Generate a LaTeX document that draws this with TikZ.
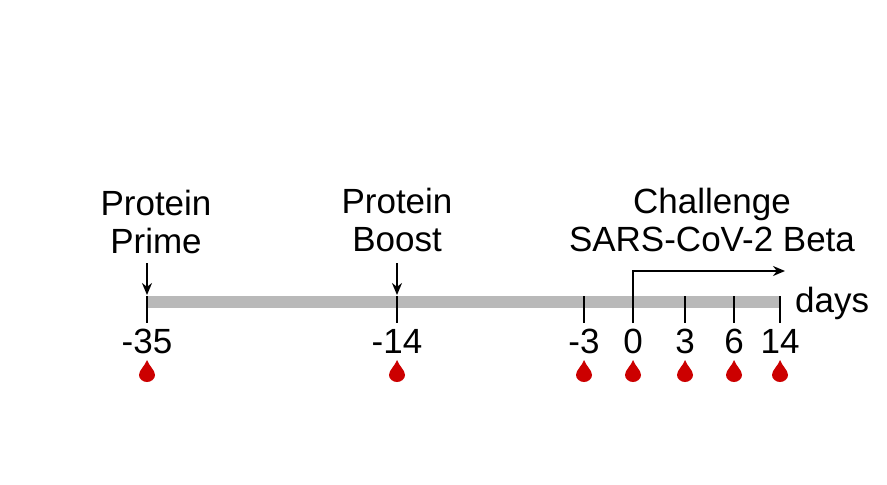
\documentclass[tikz,border=0pt]{standalone}
\usepackage{fontspec}
\setmainfont{Liberation Sans}
\usetikzlibrary{arrows.meta}
\begin{document}
\begin{tikzpicture}[x=1pt,y=-1pt,
  lbl/.style={font=\fontsize{35}{38}\selectfont,inner sep=0pt,align=center},
  tk/.style={line width=1.8pt},
  drop/.style={fill=red!80!black,draw=none},
  arr/.style={line width=1.8pt,-{Stealth[length=12pt,width=10pt]}}]
\useasboundingbox (0,0) rectangle (887,485);
\fill[gray!55] (147,296) rectangle (780,308);
\foreach \n/\x/\t in {a/147/-35,b/397/-14,c/584/-3,d/633/0,e/685/3,f/734/6,g/780/14}{
  \coordinate (t\n) at (\x,296);
  \coordinate (b\n) at (\x,323);
  \draw[tk] (t\n) -- (b\n);
  \node[lbl,anchor=center] (l\n) at (\x,341) {\t};
  \fill[drop] (\x,360) .. controls (\x+2,366) and (\x+8,370) .. (\x+8,375)
     .. controls (\x+8,379) and (\x+4,382) .. (\x,382)
     .. controls (\x-4,382) and (\x-8,379) .. (\x-8,375)
     .. controls (\x-8,370) and (\x-2,366) .. (\x,360);
}
\node[lbl] (prime) at (156,222) {Protein\\Prime};
\node[lbl] (boost) at (397,220) {Protein\\Boost};
\node[lbl] (chal) at (712,220) {Challenge\\SARS-CoV-2 Beta};
\node[lbl,anchor=west] (days) at (795,303) {days};
\coordinate (pa) at (147,263); \coordinate (pb) at (147,295);
\coordinate (ba) at (397,263); \coordinate (bb) at (397,295);
\draw[arr] (pa) -- (pb);
\draw[arr] (ba) -- (bb);
\coordinate (ca) at (633,271); \coordinate (cb) at (785,271);
\draw[arr] (bd) -- (ca) -- (cb);
\end{tikzpicture}
\end{document}
